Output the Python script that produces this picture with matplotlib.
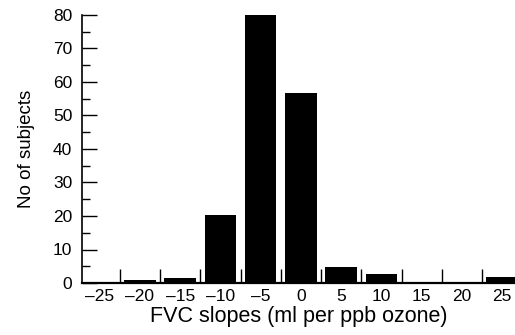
import matplotlib
matplotlib.use("Agg")
import matplotlib.pyplot as plt
from matplotlib.ticker import FixedLocator, MultipleLocator

plt.rcParams['font.family'] = ['Liberation Sans', 'DejaVu Sans']

bin_centers = [-20, -15, -10, -5, 0, 5, 10, 25]
counts = [1.0, 1.4, 20.3, 80, 56.6, 4.9, 2.6, 1.7]
x_tick_values = [-25, -20, -15, -10, -5, 0, 5, 10, 15, 20, 25]
bin_edges = [-22.5, -17.5, -12.5, -7.5, -2.5, 2.5, 7.5, 12.5, 17.5, 22.5]
y_tick_values = [0, 10, 20, 30, 40, 50, 60, 70, 80]

fig = plt.figure(figsize=(5.15, 3.35), dpi=100)
ax = fig.add_axes([82/515, 1-283/335, 1-82/515, (283-15)/335])

ax.bar(bin_centers, counts, width=3.9, color='black', zorder=3)

ax.set_xlim(-27.2, 26.6)
ax.set_ylim(0, 80)
ax.spines['top'].set_visible(False)
ax.spines['right'].set_visible(False)
ax.spines['left'].set_linewidth(1.2)
ax.spines['bottom'].set_linewidth(1.6)

ax.set_xticks(x_tick_values)
ax.set_xticklabels([str(v).replace('-', '\u2013') for v in x_tick_values])
ax.xaxis.set_minor_locator(FixedLocator(bin_edges))
ax.tick_params(axis='x', which='major', length=0, pad=4.5, labelsize=12.5)
ax.tick_params(axis='x', which='minor', direction='in', length=10, width=1.0)

ax.set_yticks(y_tick_values)
ax.yaxis.set_minor_locator(MultipleLocator(5))
ax.tick_params(axis='y', which='major', direction='in', length=11, width=1.0, pad=7, labelsize=12.5)
ax.tick_params(axis='y', which='minor', direction='in', length=5.5, width=1.0)

ax.set_xlabel('FVC slopes (ml per ppb ozone)', fontsize=15.5, labelpad=1)
ax.set_ylabel('No of subjects', fontsize=13.5, labelpad=13)

fig.savefig('out.png', dpi=100)
